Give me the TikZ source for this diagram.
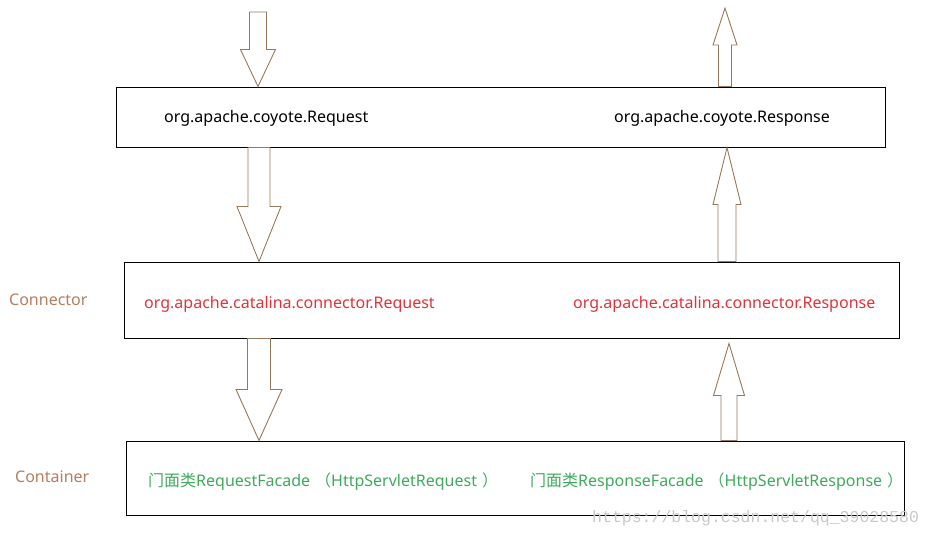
\documentclass[tikz,border=0pt]{standalone}
\usepackage{fontspec}
\setmainfont{Noto Sans}
\newfontfamily\cjk{Noto Sans CJK SC}
\newfontfamily\urlfont{Liberation Mono}
\usepackage{xcolor}
\usetikzlibrary{calc}
\definecolor{ArrowBrown}{RGB}{150,120,90}
\definecolor{LabelBrown}{RGB}{180,125,95}
\definecolor{CatRed}{RGB}{222,52,58}
\definecolor{FacadeGreen}{RGB}{62,170,92}
\definecolor{MarkGray}{RGB}{200,200,200}

\begin{document}
\begin{tikzpicture}[
  x=1pt, y=1pt,
  font=\fontsize{16}{19}\selectfont,
  layer/.style={draw, line width=1pt, inner sep=0pt},
  txt/.style={anchor=west, inner sep=0pt, yshift=-1.8},
  side/.style={txt, text=LabelBrown},
  hollow/.style={draw=ArrowBrown, line width=0.9pt, line join=miter},
]
  \useasboundingbox (0,0) rectangle (933,-535);

  % layers
  \node[layer, minimum width=769, minimum height=60] (coyote) at (500.5,-117) {};
  \node[layer, minimum width=775, minimum height=76] (catalina) at (511.5,-300) {};
  \node[layer, minimum width=778, minimum height=74] (facade) at (515,-478) {};

  % texts
  \node[txt] (coyotereq) at (164,-117) {org.apache.coyote.Request};
  \node[txt] (coyoteresp) at (614,-117) {org.apache.coyote.Response};
  \node[side] (connlabel) at (9,-298) {Connector};
  \node[txt, text=CatRed] (catreq) at (144,-303) {org.apache.catalina.connector.Request};
  \node[txt, text=CatRed] (catresp) at (573,-303) {org.apache.catalina.connector.Response};
  \node[side] (contlabel) at (15,-475) {Container};
  \node[txt, text=FacadeGreen] (reqfacade) at (148,-480)
    {{\cjk 门面类}RequestFacade\hspace{5pt}{\cjk （}HttpServletRequest\hspace{5pt}{\cjk ）}};
  \node[txt, text=FacadeGreen] (respfacade) at (530,-480)
    {{\cjk 门面类}ResponseFacade\hspace{5pt}{\cjk （}HttpServletResponse\hspace{5pt}{\cjk ）}};

  % arrow ends
  \coordinate (a1s) at (258,-12);
  \coordinate (a1e) at (a1s |- coyote.north);
  \coordinate (a2s) at (259,0 |- coyote.south);
  \coordinate (a2e) at (259,0 |- catalina.north);
  \coordinate (a3s) at (259,0 |- catalina.south);
  \coordinate (a3e) at (259,0 |- facade.north);
  \coordinate (a4s) at (725,0 |- coyote.north);
  \coordinate (a4e) at (725,-8);
  \coordinate (a5s) at (727,0 |- catalina.north);
  \coordinate (a5e) at (727,0 |- coyote.south);
  \coordinate (a6s) at (729,0 |- facade.north);
  \coordinate (a6e) at ($(729,0 |- catalina.south)+(0,-5)$);

  % hollow arrows: start/tip/shaft half/head half/head length
  \foreach \s/\e/\sh/\hh/\hl in {a1s/a1e/8.5/17.5/37, a2s/a2e/11/22/55,
      a3s/a3e/11.5/23/51, a4s/a4e/6.5/12/37, a5s/a5e/9/14/57, a6s/a6e/8/15.5/52} {
    \draw[hollow] let \p1=(\s), \p2=(\e), \p3=($(\e)!\hl pt!(\s)$) in
      (\x1-\sh,\y1) -- (\x1+\sh,\y1) -- (\x1+\sh,\y3) -- (\x1+\hh,\y3)
      -- (\x2,\y2) -- (\x1-\hh,\y3) -- (\x1-\sh,\y3) -- cycle;
  }

  % watermark
  \node[txt, text=MarkGray, font=\urlfont\fontsize{16.5}{19}\selectfont] (mark)
    at (592,-516) {https://blog.csdn.net/qq\_39028580};
\end{tikzpicture}
\end{document}
